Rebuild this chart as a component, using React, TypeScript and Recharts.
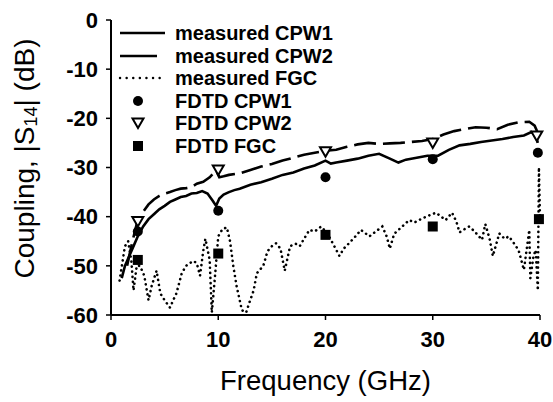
// Coupling |S14| vs frequency -- measured curves and FDTD points, recharts.

import {
	ComposedChart,
	Line,
	Scatter,
	XAxis,
	YAxis,
	Legend,
} from "recharts";

type Pt = [number, number];

const xTicks = [0, 10, 20, 30, 40];
const yTicks = [-60, -50, -40, -30, -20, -10, 0];

const measuredCpw1: Pt[] = [
	[1.0, -52.5], [1.3, -50], [1.6, -48.5], [2.0, -46.5], [2.5, -44], [3.0, -42],
	[3.5, -40.5], [4.0, -39.5], [4.5, -38.5], [5.0, -37.8], [5.5, -37], [6.0, -36.5],
	[6.5, -36], [7.0, -35.8], [7.5, -35.3], [8.0, -35.2], [8.5, -34.8], [9.0, -35.3],
	[9.5, -36.8], [9.8, -37.8], [10.1, -36.3], [10.5, -35.5], [11, -35], [11.5, -34.6],
	[12, -34.3], [13, -33.5], [14, -33], [15, -32.3], [16, -31.5], [17, -31], [18, -30.2],
	[19, -29.6], [20, -28.6], [20.5, -29.2], [21, -29], [22, -28.6], [23, -28.2],
	[24, -27.6], [25, -27.2], [26, -28.2], [26.8, -29], [27.5, -28.4], [28.5, -28],
	[29.5, -27.6], [30.5, -27.6], [31.5, -26.4], [32.5, -25.5], [33.5, -25.2],
	[34.5, -24.8], [35.5, -24.5], [36.5, -24.2], [37.5, -23.8], [38.5, -23.5],
	[39.2, -22.8], [39.6, -23.5], [39.8, -25],
];

const measuredCpw2: Pt[] = [
	[1.5, -50], [2.0, -45], [2.4, -41.5], [3.0, -39], [3.5, -37.5], [4.0, -36.5],
	[4.5, -35.8], [5.0, -35.3], [5.5, -35], [6.0, -34.6], [6.5, -34.3], [7.0, -34.2],
	[7.5, -34], [8.0, -33.3], [8.6, -32.9], [9.2, -32], [9.8, -30.6], [10.1, -32],
	[10.5, -31.8], [11, -31.5], [12, -31.2], [13, -30.5], [14, -29.8], [15, -29.3],
	[16, -28.6], [17, -28], [18, -27.4], [19, -27], [20, -26.6], [21, -26.4], [22, -25.8],
	[23, -25.3], [24, -25], [25, -25.2], [26, -25.1], [27, -25], [28, -24.8], [29, -24.6],
	[30, -24.2], [31, -23.3], [32, -22.6], [33, -22.2], [34, -21.8], [35, -21.9],
	[36, -22.2], [37, -21.3], [38, -20.8], [39, -20.7], [39.5, -21.5], [39.8, -23],
];

const measuredFgc: Pt[] = [
	[0.8, -53], [1.3, -46], [1.6, -45], [1.9, -49], [2.1, -55], [2.4, -50], [2.7, -50],
	[3.1, -52], [3.5, -57], [3.8, -54], [4.25, -51], [4.6, -55.6], [5.0, -57], [5.5, -58.5],
	[5.8, -57], [6.1, -55.6], [6.6, -51.5], [7.0, -50], [7.3, -49.5], [7.7, -49], [8.0, -49.5],
	[8.3, -52], [8.6, -47], [8.8, -44.5], [9.2, -48.8], [9.4, -59.5], [9.7, -52], [10.0, -44],
	[10.4, -42.5], [10.8, -42.2], [11.1, -45], [11.4, -50], [11.7, -54], [12.2, -59],
	[12.6, -59.5], [12.9, -57.5], [13.3, -55], [13.6, -51.5], [14.2, -50], [14.6, -47],
	[15.0, -46], [15.4, -45.4], [15.8, -46.5], [16.2, -51], [16.7, -46], [17.2, -45.5],
	[17.6, -46], [18.0, -44.5], [18.5, -42.7], [19.0, -43], [19.6, -42], [20.2, -43.5],
	[20.7, -45.5], [21.3, -48], [21.7, -46.5], [22.2, -45.4], [22.8, -44], [23.3, -42.7],
	[24.1, -44], [24.7, -43], [25.3, -42], [25.7, -44], [26.0, -46.5], [26.4, -43.5],
	[26.9, -42.5], [27.4, -41.5], [27.8, -40.7], [28.3, -41.2], [28.7, -40.7], [29.2, -40.2],
	[29.7, -39.7], [30.3, -39.2], [30.8, -40], [31.2, -40.7], [31.8, -39.2], [32.2, -41],
	[32.5, -43.2], [33.0, -42.5], [33.4, -42], [33.9, -43], [34.3, -44], [34.6, -44.7],
	[34.9, -41.5], [35.3, -44.5], [35.6, -48], [36.0, -45], [36.2, -43.4], [36.7, -44.5],
	[37.1, -44], [37.6, -45.5], [38.0, -46.8], [38.5, -50.8], [38.8, -46], [39.0, -42.7],
	[39.1, -52.5], [39.4, -48], [39.6, -46.8], [39.8, -55], [39.9, -30], [40, -40.5],
];

const fdtdCpw1: Pt[] = [[2.5, -43], [10, -38.8], [20, -32], [30, -28.3], [39.8, -27]];
const fdtdCpw2: Pt[] = [[2.5, -41], [10, -30.5], [20, -26.8], [30, -25], [39.7, -23.6]];
const fdtdFgc: Pt[] = [[2.5, -48.8], [10, -47.5], [20, -43.7], [30, -42], [39.9, -40.5]];

const toRows = (pts: Pt[]) => pts.map(([f, s]) => ({ f, s }));

const FONT = "'Liberation Sans', Arial, sans-serif";

const Circle = (p: any) => <circle cx={p.cx} cy={p.cy} r={5} fill="#000" />;
const TriDown = (p: any) => (
	<path
		d={`M${p.cx - 5.5},${p.cy - 4.5} L${p.cx + 5.5},${p.cy - 4.5} L${p.cx},${p.cy + 5} Z`}
		fill="#fff"
		stroke="#000"
		strokeWidth={2}
	/>
);
const Square = (p: any) => <rect x={p.cx - 5} y={p.cy - 5} width={10} height={10} fill="#000" />;

const legendRows = [
	{ label: "measured CPW1", kind: "solid" },
	{ label: "measured CPW2", kind: "dash" },
	{ label: "measured FGC", kind: "dot" },
	{ label: "FDTD CPW1", kind: "circle" },
	{ label: "FDTD CPW2", kind: "tri" },
	{ label: "FDTD FGC", kind: "square" },
];

function LegendBox() {
	return (
		<div style={{ fontFamily: FONT, fontWeight: "bold", fontSize: 20, lineHeight: "22.5px", textAlign: "left" }}>
			{legendRows.map((r) => (
				<div key={r.label} style={{ display: "flex", alignItems: "center", height: 22.5 }}>
					<svg width={58} height={20}>
						{r.kind === "solid" && <line x1={3} y1={10} x2={48} y2={10} stroke="#000" strokeWidth={2.5} />}
						{r.kind === "dash" && <line x1={3} y1={10} x2={40} y2={10} stroke="#000" strokeWidth={2.5} />}
						{r.kind === "dot" && (
							<line x1={3} y1={10} x2={48} y2={10} stroke="#000" strokeWidth={2.4} strokeDasharray="0.1 6.5" strokeLinecap="round" />
						)}
						{r.kind === "circle" && <Circle cx={21} cy={10} />}
						{r.kind === "tri" && <TriDown cx={21} cy={10} />}
						{r.kind === "square" && <Square cx={21} cy={10} />}
					</svg>
					<span style={{ color: "#000" }}>{r.label}</span>
				</div>
			))}
		</div>
	);
}

function YLabel(props: any) {
	const vb = props.viewBox;
	const cx = vb.x + 24;
	const cy = vb.y + vb.height / 2 - 9;
	return (
		<text
			x={cx}
			y={cy}
			transform={`rotate(-90 ${cx} ${cy})`}
			textAnchor="middle"
			dominantBaseline="central"
			fontFamily={FONT}
			fontSize={28}
			fill="#000"
		>
			Coupling, |S<tspan fontSize={18} dy={7}>14</tspan>
			<tspan dy={-7}>| (dB)</tspan>
		</text>
	);
}

const tickStyle = { fontFamily: FONT, fontSize: 22, fontWeight: "bold", fill: "#000" };

export default function App() {
	return (
		<div style={{ position: "absolute", left: 0, top: 0, background: "#fff" }}>
			<ComposedChart width={553} height={402} margin={{ top: 20, right: 13, bottom: 0, left: 0 }}>
				<XAxis
					xAxisId="b"
					dataKey="f"
					type="number"
					domain={[0, 40]}
					ticks={xTicks}
					height={87}
					tickSize={5}
					tickMargin={11}
					tick={tickStyle}
					axisLine={{ stroke: "#000", strokeWidth: 2 }}
					tickLine={{ stroke: "#000", strokeWidth: 1.5 }}
					label={{
						value: "Frequency (GHz)",
						position: "insideBottom",
						offset: 12,
						style: { fontFamily: FONT, fontSize: 27.5, fill: "#000" },
					}}
				/>
				<XAxis
					xAxisId="t"
					orientation="top"
					type="number"
					domain={[0, 40]}
					ticks={xTicks}
					height={0}
					mirror
					tickSize={4}
					tickFormatter={() => ""}
					axisLine={{ stroke: "#000", strokeWidth: 2 }}
					tickLine={{ stroke: "#000", strokeWidth: 1.5 }}
				/>
				<YAxis
					yAxisId="l"
					type="number"
					domain={[-60, 0]}
					ticks={yTicks}
					width={111}
					tickSize={5}
					tickMargin={8}
					tick={tickStyle}
					axisLine={{ stroke: "#000", strokeWidth: 2 }}
					tickLine={{ stroke: "#000", strokeWidth: 1.5 }}
					label={{ content: YLabel }}
				/>
				<YAxis
					yAxisId="r"
					orientation="right"
					type="number"
					domain={[-60, 0]}
					ticks={yTicks}
					width={0}
					mirror
					tickSize={4}
					tickFormatter={() => ""}
					axisLine={{ stroke: "#000", strokeWidth: 2 }}
					tickLine={{ stroke: "#000", strokeWidth: 1.5 }}
				/>
				<Legend
					layout="vertical"
					verticalAlign="middle"
					align="center"
					content={() => <LegendBox />}
					wrapperStyle={{ left: 117, top: 22, width: 240, height: 140 }}
				/>
				<Line
					xAxisId="b"
					yAxisId="l"
					data={toRows(measuredFgc)}
					dataKey="s"
					type="linear"
					stroke="#000"
					strokeWidth={2.6}
					strokeDasharray="0.1 5"
					strokeLinecap="round"
					dot={false}
					isAnimationActive={false}
				/>
				<Line
					xAxisId="b"
					yAxisId="l"
					data={toRows(measuredCpw1)}
					dataKey="s"
					type="linear"
					stroke="#000"
					strokeWidth={2.6}
					dot={false}
					isAnimationActive={false}
				/>
				<Line
					xAxisId="b"
					yAxisId="l"
					data={toRows(measuredCpw2)}
					dataKey="s"
					type="linear"
					stroke="#000"
					strokeWidth={2.6}
					strokeDasharray="22 7"
					dot={false}
					isAnimationActive={false}
				/>
				<Scatter xAxisId="b" yAxisId="l" data={toRows(fdtdCpw1)} dataKey="s" shape={Circle} isAnimationActive={false} />
				<Scatter xAxisId="b" yAxisId="l" data={toRows(fdtdCpw2)} dataKey="s" shape={TriDown} isAnimationActive={false} />
				<Scatter xAxisId="b" yAxisId="l" data={toRows(fdtdFgc)} dataKey="s" shape={Square} isAnimationActive={false} />
			</ComposedChart>
		</div>
	);
}
